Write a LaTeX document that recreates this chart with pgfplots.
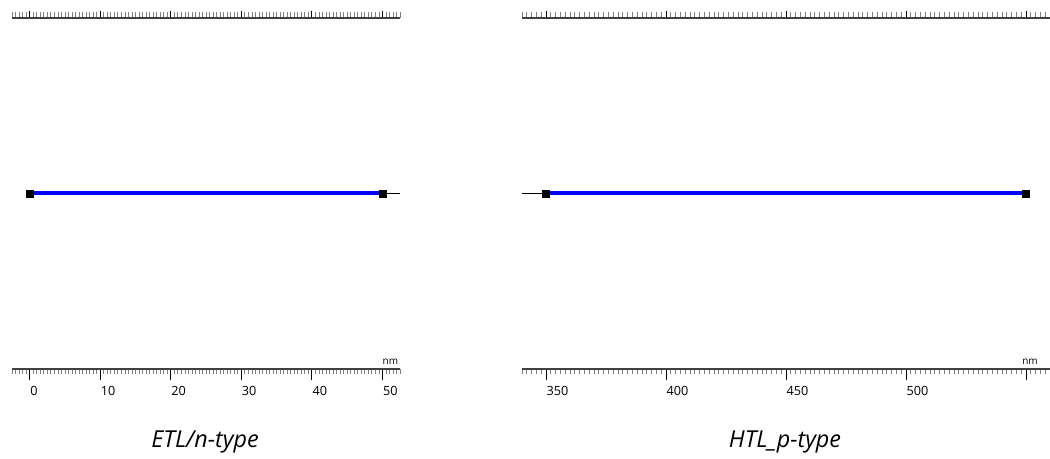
\documentclass[border=0pt]{standalone}
\usepackage{fontspec}
\setmainfont{Open Sans}
\usepackage{pgfplots}
\pgfplotsset{compat=1.18}
\begin{document}
\begin{tikzpicture}
\useasboundingbox (0,0) rectangle (787.5pt,344.25pt);
\pgfplotsset{
  ruler/.style={
    scale only axis, anchor=south west,
    ymin=-1, ymax=1,
    axis y line=none,
    every outer x axis line/.style={-, black!75, line width=0.8pt},
    every inner x axis line/.style={-, black!75, line width=0.8pt},
    x axis line style={-},
    ytick=\empty,
    tick align=outside,
    major tick style={black, line width=0.6pt},
    minor tick style={black!50, line width=0.5pt},
    xticklabel style={anchor=north west, xshift=-3pt, yshift=-1.5pt, font=\fontsize{9.5}{11}\selectfont},
    /pgf/number format/assume math mode=true,
    clip=false,
  },
  bottomruler/.style={axis x line=bottom, ruler, xtick pos=lower, major tick length=8pt, minor tick length=4pt},
  topruler/.style={axis x line=top, ruler, xtick pos=upper, xticklabels={}, major tick length=5pt, minor tick length=4.5pt},
}
% Left panel
\begin{axis}[topruler, at={(9pt,67.5pt)}, width=291pt, height=263.25pt,
  xmin=-2.5, xmax=52.5, xtick={0,10,20,30,40,50}, minor xtick={-2.5,-2,...,52.5}]
\end{axis}
\begin{axis}[bottomruler, at={(9pt,67.5pt)}, width=291pt, height=263.25pt,
  xmin=-2.5, xmax=52.5,
  xtick={0,10,20,30,40,50},
  minor xtick={-2.5,-2,...,52.5},
]
\addplot[black, line width=0.75pt] coordinates {(0,0) (52.5,0)};
\addplot[blue, line width=3pt] coordinates {(0,0) (50,0)};
\addplot[only marks, mark=square*, mark size=2.6pt, black] coordinates {(0,0) (50,0)};
\node[anchor=south west, inner sep=0pt, font=\fontsize{7.5}{9}\selectfont] at (axis cs:50,-1) [yshift=3pt] {nm};
\end{axis}
% Right panel
\begin{axis}[topruler, at={(391.5pt,67.5pt)}, width=396pt, height=263.25pt,
  xmin=340, xmax=560, xtick={350,400,450,500,550}, minor xtick={340,342,...,560}]
\end{axis}
\begin{axis}[bottomruler, at={(391.5pt,67.5pt)}, width=396pt, height=263.25pt,
  xmin=340, xmax=560,
  xtick={350,400,450,500,550},
  xticklabels={350,400,450,500,{}},
  minor xtick={340,342,...,560},
]
\addplot[black, line width=0.75pt] coordinates {(340,0) (550,0)};
\addplot[blue, line width=3pt] coordinates {(350,0) (550,0)};
\addplot[only marks, mark=square*, mark size=2.6pt, black] coordinates {(350,0) (550,0)};
\node[anchor=south west, inner sep=0pt, font=\fontsize{7.5}{9}\selectfont] at (axis cs:550,-1) [xshift=-3pt, yshift=3pt] {nm};
\end{axis}
\node[font=\fontsize{17.5}{20}\selectfont\itshape] at (153.75pt,12.5pt) {ETL/n-type};
\node[font=\fontsize{17.5}{20}\selectfont\itshape] at (588.75pt,12.5pt) {HTL\_p-type};
\end{tikzpicture}
\end{document}
